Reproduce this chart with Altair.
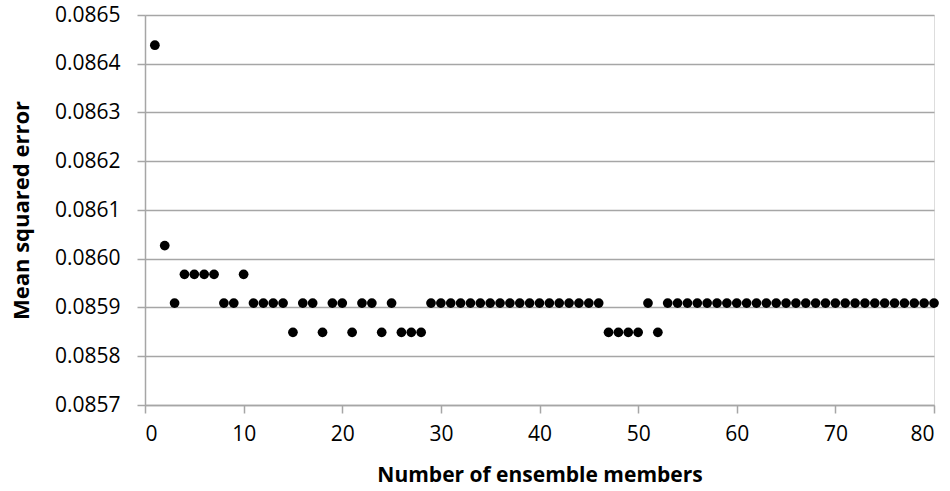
import altair as alt
import pandas as pd

members = list(range(1, 81))
mse = [
    0.086438, 0.086027, 0.085909, 0.085968, 0.085968, 0.085968, 0.085968, 0.085909, 0.085909, 0.085968,
    0.085909, 0.085909, 0.085909, 0.085909, 0.085849, 0.085909, 0.085909, 0.085849, 0.085909, 0.085909,
    0.085849, 0.085909, 0.085909, 0.085849, 0.085909, 0.085849, 0.085849, 0.085849, 0.085909, 0.085909,
    0.085909, 0.085909, 0.085909, 0.085909, 0.085909, 0.085909, 0.085909, 0.085909, 0.085909, 0.085909,
    0.085909, 0.085909, 0.085909, 0.085909, 0.085909, 0.085909, 0.085849, 0.085849, 0.085849, 0.085849,
    0.085909, 0.085849, 0.085909, 0.085909, 0.085909, 0.085909, 0.085909, 0.085909, 0.085909, 0.085909,
    0.085909, 0.085909, 0.085909, 0.085909, 0.085909, 0.085909, 0.085909, 0.085909, 0.085909, 0.085909,
    0.085909, 0.085909, 0.085909, 0.085909, 0.085909, 0.085909, 0.085909, 0.085909, 0.085909, 0.085909,
]
x_ticks = [0, 10, 20, 30, 40, 50, 60, 70, 80]
y_ticks = [0.0857, 0.0858, 0.0859, 0.0860, 0.0861, 0.0862, 0.0863, 0.0864, 0.0865]

df = pd.DataFrame({"members": members, "mse": mse})

FONT = "Open Sans"
GRID = "#a6a6a6"

chart = alt.Chart(df).mark_circle(size=95, color="black", opacity=1).encode(
    x=alt.X(
        "members:Q",
        scale=alt.Scale(domain=[0, 80], nice=False, zero=False),
        axis=alt.Axis(
            values=x_ticks,
            format="d",
            title="Number of ensemble members",
            grid=False,
            domainColor=GRID,
            domainWidth=1.5,
            tickColor=GRID,
            tickWidth=1.5,
            tickSize=8,
            labelPadding=10,
            labelFont=FONT,
            labelFontSize=21,
            labelColor="black",
            titleFont=FONT,
            titleFontSize=21,
            titleFontWeight="bold",
            titleColor="black",
            titleX=394.5,
            titleY=70,
            titleBaseline="middle",
        ),
    ),
    y=alt.Y(
        "mse:Q",
        scale=alt.Scale(domain=[0.0857, 0.0865], nice=False, zero=False),
        axis=alt.Axis(
            values=y_ticks,
            format=".4f",
            title="Mean squared error",
            grid=True,
            gridColor=GRID,
            gridWidth=1.5,
            domainColor=GRID,
            domainWidth=1.5,
            tickColor=GRID,
            tickWidth=1.5,
            tickSize=8,
            labelPadding=17,
            labelFont=FONT,
            labelFontSize=21,
            labelColor="black",
            titleFont=FONT,
            titleFontSize=22,
            titleFontWeight="bold",
            titleColor="black",
            titleX=-124,
            titleY=195,
            titleBaseline="middle",
        ),
    ),
).properties(
    width=789,
    height=390,
    padding={"left": 145, "top": 15, "right": 16, "bottom": 86},
    autosize=alt.AutoSizeParams(type="none"),
).configure_view(stroke=None).configure(background="white")

chart.save("out.html", embed_options={"renderer": "svg", "actions": False})
